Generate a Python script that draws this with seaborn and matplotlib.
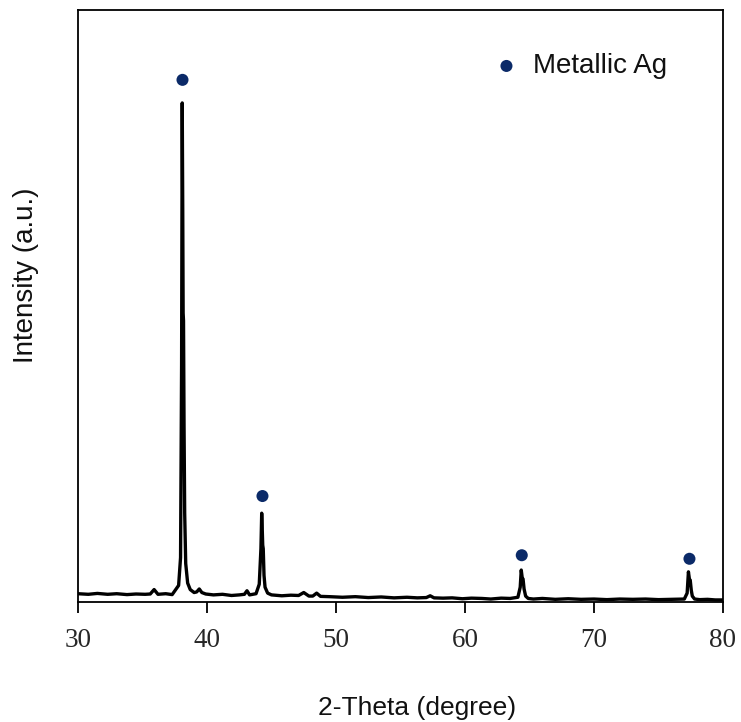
import matplotlib
matplotlib.use("Agg")
import matplotlib.pyplot as plt
import seaborn as sns
import pandas as pd

# XRD pattern (2-theta in degrees, intensity in arbitrary units)
two_theta = [30.0, 30.8, 31.5, 32.3, 33.0, 33.8, 34.5, 35.2, 35.6, 35.9, 36.2, 36.8, 37.3, 37.8,
             37.95, 38.03, 38.08, 38.12, 38.15, 38.18, 38.22, 38.27, 38.35, 38.5, 38.7,
             39.0, 39.2, 39.4, 39.6, 39.9, 40.5, 41.2, 41.9, 42.5, 42.9, 43.1, 43.3, 43.8,
             44.05, 44.18, 44.24, 44.28, 44.32, 44.36, 44.42, 44.5, 44.7, 45.0, 45.8, 46.5,
             47.1, 47.5, 47.9, 48.2, 48.5, 48.8, 49.5, 50.5, 51.5, 52.5, 53.5, 54.5, 55.5,
             56.3, 57.0, 57.3, 57.6, 58.3, 59.0, 59.8, 60.5, 61.3, 62.0, 62.8, 63.5, 64.1,
             64.28, 64.36, 64.44, 64.5, 64.58, 64.7, 64.9, 65.3, 66.0, 67.0, 68.0, 69.0,
             70.0, 71.0, 72.0, 73.0, 74.0, 75.0, 76.0, 77.0, 77.22, 77.32, 77.4, 77.46,
             77.54, 77.62, 77.8, 78.2, 78.8, 79.4, 80.0]
intensity = [1.4, 1.3, 1.45, 1.3, 1.4, 1.25, 1.35, 1.3, 1.35, 2.1, 1.3, 1.4, 1.25, 2.8,
             7.5, 40.0, 84.3, 66.0, 48.8, 47.5, 30.0, 15.0, 6.5, 3.2, 2.1,
             1.6, 1.7, 2.2, 1.6, 1.35, 1.2, 1.3, 1.1, 1.2, 1.3, 1.9, 1.2, 1.4,
             3.0, 9.0, 15.0, 12.5, 9.6, 9.0, 4.5, 2.5, 1.5, 1.2, 1.05, 1.15,
             1.1, 1.6, 1.0, 1.0, 1.5, 0.95, 0.9, 0.8, 0.9, 0.75, 0.85, 0.7, 0.8,
             0.7, 0.75, 1.05, 0.7, 0.65, 0.7, 0.55, 0.65, 0.6, 0.5, 0.65, 0.6, 0.8,
             2.5, 5.4, 4.0, 3.9, 2.2, 1.0, 0.6, 0.5, 0.6, 0.45, 0.55, 0.45,
             0.5, 0.4, 0.5, 0.45, 0.5, 0.4, 0.45, 0.5, 1.5, 5.1, 3.8, 3.7,
             2.0, 1.0, 0.5, 0.4, 0.45, 0.35, 0.35]

# Metallic Ag peak markers
ag_theta = [38.1, 44.3, 64.4, 77.4]
ag_marker = [88.2, 17.9, 7.9, 7.3]

x_ticks = [30, 40, 50, 60, 70, 80]

df = pd.DataFrame({"two_theta": two_theta, "intensity": intensity})
dm = pd.DataFrame({"two_theta": ag_theta, "intensity": ag_marker})

sns.set_style("white")
plt.rcParams["font.family"] = ["Liberation Sans", "DejaVu Sans"]

fig = plt.figure(figsize=(7.41, 7.22), dpi=100)
ax = fig.add_axes([78 / 741, 120 / 722, 645 / 741, 592 / 722])

sns.lineplot(data=df, x="two_theta", y="intensity", ax=ax, color="black",
             linewidth=2.4, sort=False, legend=False)
sns.scatterplot(data=dm, x="two_theta", y="intensity", ax=ax, color="#0b2a68",
                s=75, edgecolor="none", label="Metallic Ag", zorder=3)

ax.set_xlim(30, 80)
ax.set_ylim(0, 100)
ax.set_xticks(x_ticks)
ax.set_xticklabels([str(t) for t in x_ticks], fontfamily="Liberation Serif", fontsize=19.5)
ax.set_yticks([])
ax.tick_params(axis="x", direction="out", length=8, width=1.3, color="black", pad=11,
               bottom=True)
for sp in ax.spines.values():
    sp.set_color("black")
    sp.set_linewidth(1.3)

ax.set_xlabel("2-Theta (degree)", fontsize=19, labelpad=31, color="#111111", x=0.526)
ax.set_ylabel("Intensity (a.u.)", fontsize=20, labelpad=28, color="#111111", y=0.552)

leg = ax.legend(loc="center left", bbox_to_anchor=(0.6126, 0.905), frameon=False,
                fontsize=20, handlelength=1.0, handletextpad=0.45, borderpad=0.2)
for t in leg.get_texts():
    t.set_color("#111111")

fig.savefig("out.png", dpi=100)
